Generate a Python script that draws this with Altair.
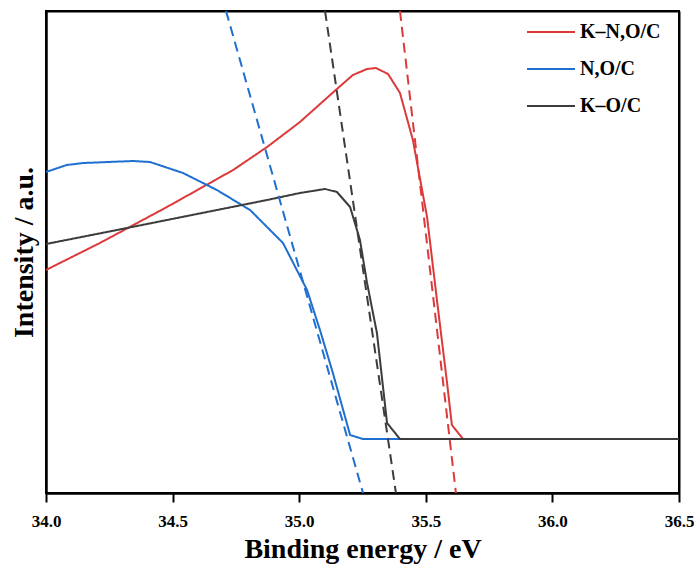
import altair as alt
import pandas as pd

# ---- data ----
series_names = ["K–N,O/C", "N,O/C", "K–O/C"]
series_colors = ["#dc3a3a", "#1f6fd0", "#3c3c3c"]

red_x = [34.0, 34.213, 34.478, 34.739, 34.873, 35.003, 35.149, 35.212, 35.268, 35.303,
         35.351, 35.398, 35.449, 35.505, 35.544, 35.584, 35.603, 35.647, 36.5]
red_y = [46.27, 51.87, 59.34, 67.01, 71.78, 76.97, 83.82, 86.72, 87.97, 88.17,
         86.93, 82.99, 73.24, 57.26, 40.04, 22.82, 14.11, 11.20, 11.20]

blue_x = [34.0, 34.082, 34.146, 34.344, 34.411, 34.541, 34.675, 34.806, 34.936, 35.031,
          35.082, 35.133, 35.201, 35.252, 36.5]
blue_y = [66.60, 68.05, 68.46, 68.88, 68.67, 66.39, 62.86, 58.71, 51.87, 42.12,
          33.82, 24.90, 12.03, 11.20, 11.20]

black_x = [34.0, 34.280, 34.478, 34.675, 34.873, 35.003, 35.102, 35.149, 35.201, 35.240,
           35.268, 35.307, 35.347, 35.398, 36.5]
black_y = [51.66, 54.56, 56.64, 58.71, 60.79, 62.24, 63.07, 62.45, 59.34, 52.49,
           43.57, 33.20, 14.52, 11.20, 11.20]

# tangent (dashed) lines: x at top (y=100) and bottom (y=0) of the plot
tan_top_x = [35.398, 34.711, 35.102]
tan_bot_x = [35.619, 35.252, 35.382]

major_ticks = [34.0, 34.5, 35.0, 35.5, 36.0, 36.5]
y_frame = [0, 100]

rows = []
for name, xs, ys in zip(series_names, [red_x, blue_x, black_x], [red_y, blue_y, black_y]):
    for i, (x, y) in enumerate(zip(xs, ys)):
        rows.append({"series": name, "kind": "curve", "x": x, "y": y, "order": i})
for name, xt, xb in zip(series_names, tan_top_x, tan_bot_x):
    rows.append({"series": name, "kind": "tangent", "x": xt, "y": 100.0, "order": 0})
    rows.append({"series": name, "kind": "tangent", "x": xb, "y": 0.0, "order": 1})
df = pd.DataFrame(rows)

FONT = "Liberation Serif"
W, H = 633, 482

xscale = alt.Scale(domain=[34.0, 36.5], nice=False, zero=False)
yscale = alt.Scale(domain=[0, 100], nice=False, zero=False)
cscale = alt.Scale(domain=series_names, range=series_colors)
dscale = alt.Scale(domain=["curve", "tangent"], range=[[1, 0], [10, 6]])

x_axis = alt.Axis(values=major_ticks, format=".1f", title="Binding energy / eV",
                  grid=True, gridColor="black", gridWidth=2,
                  gridOpacity={"condition": {"test": "datum.value <= 34.0 || datum.value >= 36.5",
                                             "value": 1}, "value": 0},
                  tickSize=9, tickWidth=2,
                  tickColor="black", domainColor="black", domainWidth=2,
                  labelFont=FONT, labelFontWeight="bold", labelFontSize=17,
                  labelColor="black", labelPadding=11, labelFlush=False,
                  labelOverlap=False,
                  titleFont=FONT, titleFontWeight="bold", titleFontSize=28,
                  titleColor="black", titleBaseline="alphabetic", titleY=64)

y_axis = alt.Axis(title="Intensity / a.u.", values=y_frame, ticks=False, labels=False,
                  grid=True, gridColor="black", gridWidth=2, gridOpacity=1,
                  domainColor="black", domainWidth=2,
                  titleFont=FONT, titleFontWeight="bold", titleFontSize=28,
                  titleColor="black", titlePadding=8)

legend = alt.Legend(title=None, orient="none", legendX=480, legendY=-4,
                    symbolType="stroke", symbolSize=2304, symbolStrokeWidth=2,
                    symbolDash=[1, 0], labelFont=FONT, labelFontWeight="bold",
                    labelFontSize=20, labelColor="black", labelOffset=4, padding=0)

chart = alt.Chart(df).mark_line(strokeWidth=2).encode(
    x=alt.X("x:Q", scale=xscale, axis=x_axis),
    y=alt.Y("y:Q", scale=yscale, axis=y_axis),
    color=alt.Color("series:N", scale=cscale, sort=series_names, legend=legend),
    strokeDash=alt.StrokeDash("kind:N", scale=dscale, legend=None),
    order="order:Q",
).properties(
    width=W, height=H,
    autosize=alt.AutoSizeParams(type="none"),
    padding={"left": 46, "top": 11, "right": 15, "bottom": 71},
).configure_view(stroke="black", strokeWidth=2)

chart.save("out.html", embed_options={"renderer": "svg", "actions": False})
